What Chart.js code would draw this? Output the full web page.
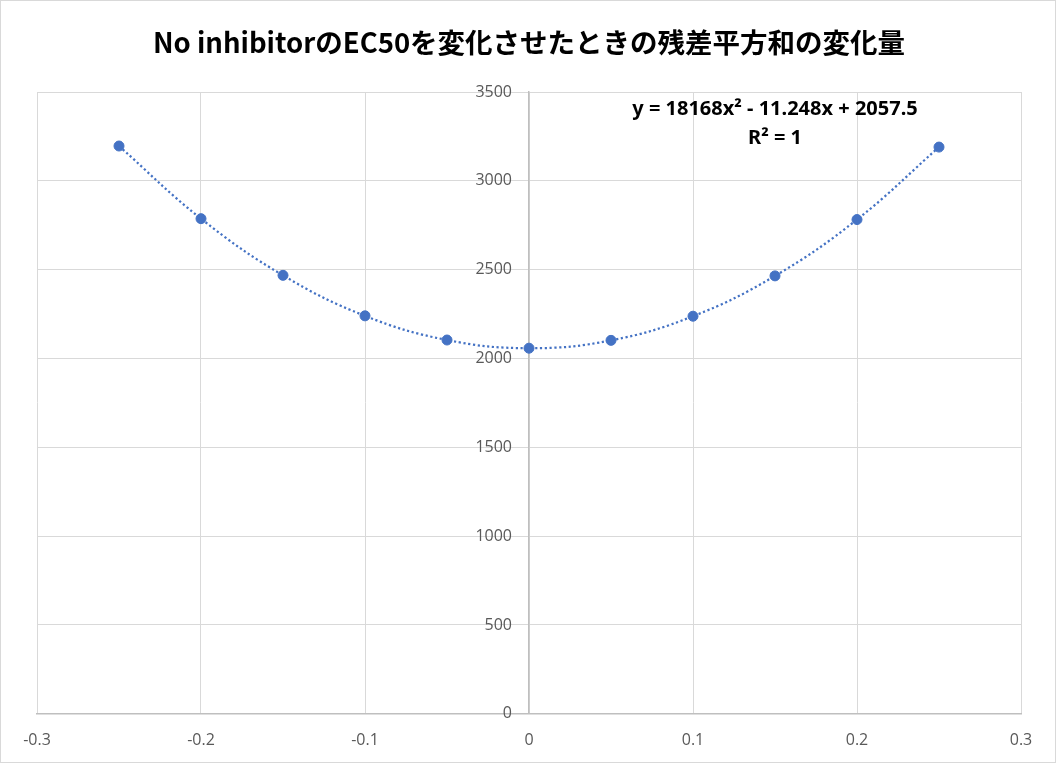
<!DOCTYPE html>
<html>
<head>
<meta charset="utf-8">
<script src="https://cdn.jsdelivr.net/npm/chart.js@4.4.1/dist/chart.umd.min.js"></script>
<style>
  html, body { margin: 0; padding: 0; background: #fff; }
  #wrap { position: relative; width: 1056px; height: 763px; box-sizing: border-box; border: 1px solid #d9d9d9; }
  canvas { display: block; }
</style>
</head>
<body>
<div id="wrap"><canvas id="chart" width="1054" height="761"></canvas></div>
<script>
// EC50 shift vs residual sum of squares
const xValues = [-0.25, -0.2, -0.15, -0.1, -0.05, 0, 0.05, 0.1, 0.15, 0.2, 0.25];
const ssrValues = [3196, 2787, 2468, 2240, 2104, 2058, 2102, 2238, 2465, 2782, 3190];
const xTicks = [-0.3, -0.2, -0.1, 0, 0.1, 0.2, 0.3];
const yTicks = [0, 500, 1000, 1500, 2000, 2500, 3000, 3500];
const titleText = 'No inhibitorのEC50を変化させたときの残差平方和の変化量';
const eqLine = 'y = 18168x² - 11.248x + 2057.5';
const r2Line = 'R² = 1';

const blue = '#4472C4';
const tickFont = '"Open Sans", "Noto Sans", sans-serif';
const points = xValues.map((x, i) => ({ x: x, y: ssrValues[i] }));

// equation box + y labels (the y axis sits at x = 0, so its labels are drawn here)
const extraText = {
  id: 'extraText',
  afterDraw(chart) {
    const ctx = chart.ctx;
    const xs = chart.scales.x;
    const ys = chart.scales.y;
    ctx.save();
    ctx.fillStyle = '#595959';
    ctx.font = '16px ' + tickFont;
    ctx.textAlign = 'right';
    ctx.textBaseline = 'middle';
    const axisX = xs.getPixelForValue(0);
    yTicks.forEach(v => {
      ctx.fillText(String(v), axisX - 17, ys.getPixelForValue(v));
    });

    ctx.fillStyle = '#000';
    ctx.font = 'bold 20px "Noto Sans", "DejaVu Sans", sans-serif';
    ctx.textAlign = 'center';
    ctx.fillText(eqLine, 774, 108);
    ctx.fillText(r2Line, 774, 137);
    ctx.restore();
  }
};

new Chart(document.getElementById('chart'), {
  type: 'scatter',
  data: {
    datasets: [
      {
        label: 'trend',
        data: points,
        showLine: true,
        borderColor: blue,
        borderWidth: 2.25,
        borderDash: [2.2, 2.6],
        tension: 0.4,
        pointRadius: 0,
        pointHoverRadius: 0,
        fill: false,
        order: 2
      },
      {
        label: 'SSR',
        data: points,
        showLine: false,
        backgroundColor: blue,
        borderColor: blue,
        pointRadius: 5,
        pointHoverRadius: 5,
        order: 1
      }
    ]
  },
  options: {
    responsive: false,
    animation: false,
    layout: { padding: { left: 36, right: 34, top: 0, bottom: -5 } },
    plugins: {
      legend: { display: false },
      tooltip: { enabled: false },
      title: {
        display: true,
        text: titleText,
        color: '#000',
        font: { family: '"Noto Sans CJK JP", "Noto Sans", sans-serif', size: 27.5, weight: 'bold', lineHeight: 1.2 },
        padding: { top: 25, bottom: 33 }
      }
    },
    scales: {
      x: {
        type: 'linear',
        min: -0.3,
        max: 0.3,
        afterBuildTicks: (axis) => { axis.ticks = xTicks.map(v => ({ value: v })); },
        ticks: {
          color: '#595959',
          font: { family: tickFont, size: 16 },
          padding: 17,
          callback: (v) => String(Math.round(v * 10) / 10)
        },
        grid: { color: '#d9d9d9', lineWidth: 1, drawTicks: false },
        border: { color: '#bfbfbf', width: 1.5 }
      },
      y: {
        type: 'linear',
        position: { x: 0 },
        min: 0,
        max: 3500,
        afterBuildTicks: (axis) => { axis.ticks = yTicks.map(v => ({ value: v })); },
        ticks: { display: false },
        grid: { color: '#d9d9d9', lineWidth: 1, drawTicks: false },
        border: { color: '#bfbfbf', width: 1.5 }
      }
    }
  },
  plugins: [extraText]
});
</script>
</body>
</html>
